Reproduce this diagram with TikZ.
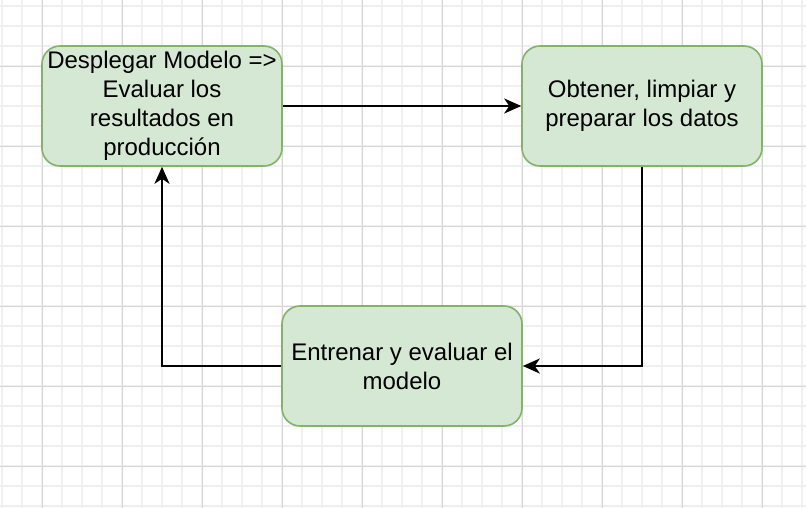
\documentclass[tikz,border=0pt]{standalone}
\usepackage{fontspec}
\setmainfont{Liberation Sans}
\usetikzlibrary{arrows.meta}
\definecolor{boxfill}{HTML}{D5E8D4}
\definecolor{boxline}{HTML}{82B366}
\definecolor{gridminor}{HTML}{F0F0F0}
\definecolor{gridmajor}{HTML}{D6D6D6}
\tikzset{
  stagebox/.style={draw=boxline, fill=boxfill, line width=1.6pt, rounded corners=18pt,
    minimum width=240pt, minimum height=120pt, inner sep=0pt, align=center,
    font=\fontsize{24}{29}\selectfont},
  flowarrow/.style={line width=2pt, -{Stealth[length=17pt,width=15pt,inset=5pt]}},
}
\begin{document}
\begin{tikzpicture}[x=1pt,y=-1pt]
\fill[white] (0,0) rectangle (806,508);
\useasboundingbox (0,0) rectangle (806,508);
% minor grid
\foreach \i in {0,...,40} { \draw[gridminor, line width=1.5pt] ({2+20*\i},0) -- ({2+20*\i},508); }
\foreach \j in {0,...,25} { \draw[gridminor, line width=1.5pt] (0,{6+20*\j}) -- (806,{6+20*\j}); }
% major grid
\foreach \i in {0,...,9} { \draw[gridmajor, line width=0.9pt] ({42+80*\i},0) -- ({42+80*\i},508); }
\foreach \j in {0,...,5} { \draw[gridmajor, line width=0.9pt] (0,{66+80*\j}) -- (806,{66+80*\j}); }
% boxes
\node[stagebox] (deploy) at (162,106) {Desplegar Modelo =>\\Evaluar los\\resultados en\\producción};
\node[stagebox] (data) at (642,106) {Obtener, limpiar y\\preparar los datos};
\node[stagebox] (train) at (402,366) {Entrenar y evaluar el\\modelo};
% connectors
\draw[flowarrow] (deploy.east) -- (data.west);
\draw[flowarrow] (data.south) |- (train.east);
\draw[flowarrow] (train.west) -| (deploy.south);
\end{tikzpicture}
\end{document}
